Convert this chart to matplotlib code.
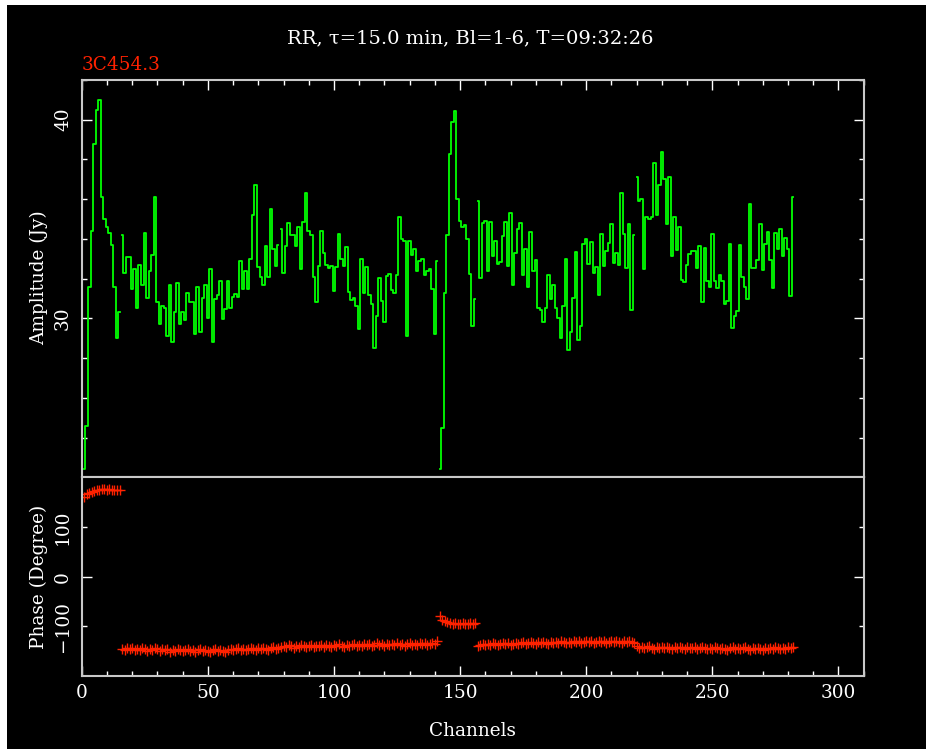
import numpy as np
import matplotlib
matplotlib.use("Agg")
import matplotlib.pyplot as plt
from matplotlib.patches import Rectangle
from matplotlib.ticker import MultipleLocator

# ---------------- data ----------------
window_start = [1, 16, 79, 142, 157, 220]

amp_w1 = [22.4, 24.6, 31.6, 34.4, 38.8, 40.5, 41.0, 36.1, 35.0, 34.6, 34.3, 33.7, 31.6, 29.0, 30.3]
amp_w2 = [34.2, 32.3, 33.1, 33.1, 31.5, 32.5, 30.5, 32.7, 31.7, 34.3, 31.05, 32.4, 33.2, 36.1, 30.8,
          29.7, 30.6, 30.5, 29.1, 31.7, 28.8, 30.3, 31.8, 29.7, 30.3, 29.9, 31.3, 30.8, 30.8, 29.2,
          31.6, 29.3, 31.05, 31.7, 30.0, 32.5, 28.8, 31.0, 31.2, 31.9, 29.95, 30.45, 31.9, 30.5, 31.1,
          31.25, 31.1, 32.9, 31.5, 32.4, 31.5, 33.0, 35.2, 36.7, 32.6, 32.1, 31.7, 33.65, 32.1, 35.5,
          33.5, 32.65, 33.7]
amp_w3 = [34.5, 32.3, 33.65, 34.8, 34.2, 34.2, 33.65, 34.6, 32.5, 34.85, 36.3, 34.4, 34.2, 32.1, 30.8,
          32.65, 34.4, 33.3, 32.7, 32.55, 32.65, 31.4, 32.6, 34.25, 33.0, 32.65, 33.6, 31.35, 30.95, 31.05,
          30.6, 29.45, 33.0, 31.3, 32.6, 31.2, 30.7, 28.5, 30.1, 32.05, 30.85, 29.8, 32.15, 32.25, 31.45,
          31.3, 32.2, 35.1, 34.0, 33.9, 29.1, 33.9, 33.2, 33.5, 32.4, 32.9, 33.0, 32.2, 32.4, 32.5,
          31.5, 29.2, 32.9]
amp_w4 = [22.44, 24.5, 31.3, 34.2, 38.3, 39.9, 40.45, 36.0, 34.9, 34.6, 34.7, 34.0, 32.25, 29.6, 31.0]
amp_w5 = [35.9, 32.05, 34.8, 34.9, 32.4, 34.85, 33.15, 33.9, 32.75, 32.85, 34.15, 34.85, 32.65, 35.3, 31.7,
          33.3, 34.5, 34.8, 32.2, 33.5, 31.6, 34.35, 32.4, 32.95, 30.5, 30.4, 29.8, 30.5, 32.2, 31.0,
          31.7, 30.5, 30.0, 29.0, 30.6, 33.0, 28.4, 29.3, 31.05, 33.35, 28.9, 29.6, 33.75, 34.0, 32.75,
          33.85, 32.3, 32.6, 31.2, 34.25, 32.65, 33.4, 33.8, 34.75, 32.8, 33.3, 32.7, 36.3, 34.25, 32.55,
          34.75, 30.4, 34.2]
amp_w6 = [37.1, 35.9, 36.0, 32.5, 35.1, 35.0, 35.1, 37.8, 35.2, 36.7, 38.4, 37.0, 34.75, 37.1, 33.15,
          35.1, 33.45, 34.6, 31.95, 31.85, 32.7, 33.25, 33.4, 33.4, 32.55, 33.65, 30.8, 33.55, 31.9, 31.6,
          34.25, 31.9, 31.55, 32.2, 31.9, 30.7, 30.9, 33.75, 29.5, 30.1, 30.35, 33.7, 32.1, 31.6, 31.0,
          35.75, 32.55, 32.55, 32.95, 34.75, 32.45, 33.75, 34.35, 32.95, 31.55, 34.3, 33.5, 34.5, 33.15, 34.05,
          33.5, 31.15, 36.1]

ph_w1 = [161, 166, 168, 171, 172, 174, 175, 176, 176, 175, 176, 175, 174, 175, 174]
ph_w2 = [-145, -147, -144, -146, -143, -147, -145, -148, -144, -146, -149, -145, -147, -144, -146,
         -150, -146, -148, -145, -151, -147, -149, -146, -148, -150, -147, -145, -149, -147, -151,
         -148, -146, -150, -147, -149, -152, -148, -146, -150, -147, -149, -151, -147, -145, -148,
         -146, -144, -147, -145, -148, -146, -143, -145, -147, -144, -146, -143, -145, -147, -144,
         -142, -145, -143]
ph_w3 = [-141, -139, -142, -138, -140, -143, -139, -141, -138, -140, -142, -139, -137, -141, -139,
         -140, -138, -141, -137, -139, -142, -138, -140, -136, -139, -141, -137, -139, -138, -136,
         -139, -137, -140, -136, -138, -135, -139, -137, -134, -138, -136, -139, -135, -137, -136,
         -138, -134, -137, -135, -139, -136, -134, -137, -135, -138, -133, -136, -134, -137, -135,
         -133, -136, -130]
ph_w4 = [-80, -88, -90, -92, -93, -95, -94, -96, -95, -94, -96, -95, -94, -95, -94]
ph_w5 = [-139, -137, -136, -138, -135, -137, -134, -136, -138, -135, -133, -136, -134, -137, -135,
         -133, -136, -134, -132, -135, -133, -131, -134, -136, -132, -134, -131, -133, -135, -132,
         -134, -131, -133, -130, -132, -134, -131, -133, -129, -132, -130, -133, -131, -129, -132,
         -130, -133, -131, -129, -132, -130, -133, -131, -129, -132, -130, -131, -133, -130, -132,
         -129, -131, -133]
ph_w6 = [-140, -143, -141, -144, -142, -140, -143, -145, -141, -143, -142, -144, -141, -143, -145,
         -142, -144, -141, -143, -146, -142, -144, -143, -141, -145, -143, -142, -144, -146, -143,
         -145, -142, -144, -146, -143, -145, -147, -144, -142, -145, -143, -146, -144, -142, -145,
         -147, -144, -146, -143, -145, -147, -144, -146, -143, -145, -142, -144, -146, -143, -145,
         -141, -144, -142]

amp_windows = [amp_w1, amp_w2, amp_w3, amp_w4, amp_w5, amp_w6]
ph_windows = [ph_w1, ph_w2, ph_w3, ph_w4, ph_w5, ph_w6]

x_ticks = [0, 50, 100, 150, 200, 250, 300]
amp_ticks = [30, 40]
ph_major = [0]
ph_minor = [-100, 100]

title = "RR, τ=15.0 min, Bl=1-6, T=09:32:26"
source = "3C454.3"

# ---------------- figure ----------------
W, H = 926, 749
FONT = "DejaVu Serif"
FS = 13.3
FS_TITLE = 14
GREEN = "#00ff00"
RED = "#ff2200"
FRAME = "#c8c8c8"

fig = plt.figure(figsize=(W / 100, H / 100), dpi=100, facecolor="white")
fig.patches.append(Rectangle((7 / W, 0), 1 - 7 / W, 1 - 5 / H, transform=fig.transFigure,
                             facecolor="black", edgecolor="none", zorder=-10))


def fx(px):
    return px / W


def fy(py):
    return 1 - py / H


L, R = 81.7, 863.7
T1, MID, B2 = 80.0, 477.3, 676.0
ax1 = fig.add_axes([fx(L), fy(MID), (R - L) / W, (MID - T1) / H])
ax2 = fig.add_axes([fx(L), fy(B2), (R - L) / W, (B2 - MID) / H])

for ax in (ax1, ax2):
    ax.set_facecolor("black")
    for s in ax.spines.values():
        s.set_color(FRAME)
        s.set_linewidth(1.5)
    ax.set_xlim(0, 310)
    ax.xaxis.set_major_locator(MultipleLocator(50))
    ax.xaxis.set_minor_locator(MultipleLocator(10))
    ax.tick_params(which="major", length=7.5, width=1, color="white", direction="in")
    ax.tick_params(which="minor", length=3.8, width=1, color="white", direction="in")
    ax.tick_params(axis="y", which="both", left=True, right=True, pad=7)

# amplitude
for start, amp in zip(window_start, amp_windows):
    ch = np.arange(start, start + len(amp))
    ax1.step(ch, amp, where="mid", color=GREEN, lw=1.3)
ax1.set_ylim(22, 42)
ax1.yaxis.set_minor_locator(MultipleLocator(2))
ax1.set_yticks(amp_ticks, labels=[str(t) for t in amp_ticks], rotation=90, va="center",
               color="white", fontsize=FS, family=FONT)
ax1.tick_params(axis="x", which="both", top=True, bottom=False, labelbottom=False, labeltop=False)

# phase
for start, ph in zip(window_start, ph_windows):
    ch = np.arange(start, start + len(ph))
    ax2.plot(ch, ph, linestyle="none", marker="+", ms=7, mew=1.0, color=RED)
ax2.set_ylim(-200, 200)
ax2.set_yticks(ph_major, labels=["0"], rotation=90, va="center",
               color="white", fontsize=FS, family=FONT)
ax2.set_yticks(ph_minor, labels=["\u2212100", "100"], minor=True, rotation=90, va="center",
               color="white", fontsize=FS, family=FONT)
ax2.set_xticks(x_ticks, labels=[str(t) for t in x_ticks], color="white", fontsize=FS, family=FONT)
ax2.tick_params(axis="x", which="both", top=False, bottom=True, pad=6)

# texts
fig.text(fx(470), fy(38), title, ha="center", va="center", color="white", fontsize=FS_TITLE, family=FONT)
fig.text(fx(L), fy(65), source, ha="left", va="center", color=RED, fontsize=FS, family=FONT)
fig.text(fx(39), fy(278), "Amplitude (Jy)", rotation=90, ha="center", va="center",
         color="white", fontsize=FS, family=FONT)
fig.text(fx(39), fy(577), "Phase (Degree)", rotation=90, ha="center", va="center",
         color="white", fontsize=FS, family=FONT)
fig.text(fx(472), fy(731), "Channels", ha="center", va="center", color="white", fontsize=FS, family=FONT)

fig.savefig("out.png", dpi=100, facecolor=fig.get_facecolor())
